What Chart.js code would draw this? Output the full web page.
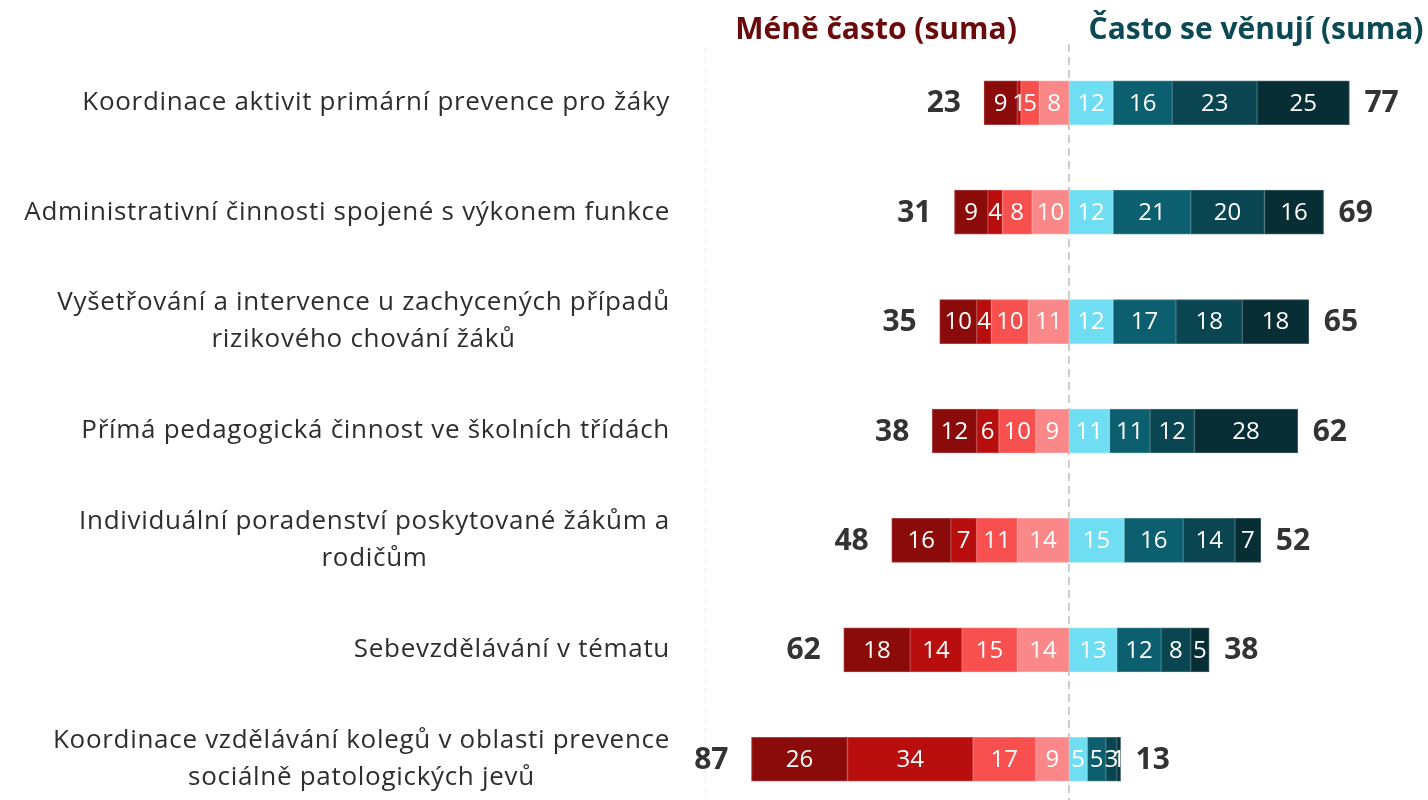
<!DOCTYPE html>
<html><head><meta charset="utf-8">
<script src="https://cdn.jsdelivr.net/npm/chart.js@4"></script>
<style>
html,body{margin:0;padding:0;background:#fff;overflow:hidden}
#wrap{position:relative;width:1428px;height:814px}
</style>
</head><body>
<div id="wrap"><canvas id="c" width="1428" height="814"></canvas></div>
<script>
// ---- data ----
const categories = [
  ["Koordinace aktivit primární prevence pro žáky"],
  ["Administrativní činnosti spojené s výkonem funkce"],
  ["Vyšetřování a intervence u zachycených případů", "rizikového chování žáků"],
  ["Přímá pedagogická činnost ve školních třídách"],
  ["Individuální poradenství poskytované žákům a", "rodičům"],
  ["Sebevzdělávání v tématu"],
  ["Koordinace vzdělávání kolegů v oblasti prevence", "sociálně patologických jevů"]
];
// "Méně často" side (outermost -> innermost)
const lessDark  = [9, 9, 10, 12, 16, 18, 26];
const lessRed   = [1, 4, 4, 6, 7, 14, 34];
const lessCoral = [5, 8, 10, 10, 11, 15, 17];
const lessPink  = [8, 10, 11, 9, 14, 14, 9];
// "Často se věnují" side (innermost -> outermost)
const oftenCyan    = [12, 12, 12, 11, 15, 13, 5];
const oftenTeal    = [16, 21, 17, 11, 16, 12, 5];
const oftenDark    = [23, 20, 18, 12, 14, 8, 3];
const oftenDarkest = [25, 16, 18, 28, 7, 5, 1];
// totals shown beside bars
const lessTotals  = [23, 31, 35, 38, 48, 62, 87];
const oftenTotals = [77, 69, 65, 62, 52, 38, 13];
const leftTitle  = "Méně často (suma)";
const rightTitle = "Často se věnují (suma)";
const axisMin = -98.6, axisMax = 97.3;

const neg = a => a.map(v => -v);
const FONT = "'Open Sans', 'Noto Sans', sans-serif";

function lighten(hex, t) {
  const n = parseInt(hex.slice(1), 16);
  const r = (n >> 16) & 255, g = (n >> 8) & 255, b = n & 255;
  const m = c => Math.round(c + (255 - c) * t);
  return 'rgb(' + m(r) + ',' + m(g) + ',' + m(b) + ')';
}

const labelPlugin = {
  id: 'custom',
  beforeDatasetsDraw(chart) {
    const ctx = chart.ctx, xs = chart.scales.x, area = chart.chartArea;
    ctx.save();
    ctx.setLineDash([5, 5]);
    ctx.strokeStyle = '#ececec';
    ctx.lineWidth = 1;
    let x = Math.round(xs.getPixelForValue(axisMin)) + 0.5;
    ctx.beginPath(); ctx.moveTo(x, area.top); ctx.lineTo(x, 800); ctx.stroke();
    ctx.setLineDash([8, 5]);
    ctx.strokeStyle = '#bdbdbd';
    ctx.lineWidth = 1.5;
    x = xs.getPixelForValue(0);
    ctx.beginPath(); ctx.moveTo(x, area.top - 4); ctx.lineTo(x, 800); ctx.stroke();
    ctx.restore();
  },
  afterDatasetsDraw(chart) {
    const ctx = chart.ctx, xs = chart.scales.x, ys = chart.scales.y;
    ctx.save();
    // segment values
    ctx.fillStyle = '#ffffff';
    ctx.font = "24px " + FONT;
    ctx.textAlign = 'center';
    ctx.textBaseline = 'middle';
    chart.data.datasets.forEach((ds, di) => {
      const meta = chart.getDatasetMeta(di);
      meta.data.forEach((el, i) => {
        const v = Math.abs(ds.data[i]);
        ctx.fillText(String(v), (el.x + el.base) / 2, el.y + 1);
      });
    });
    // totals
    ctx.fillStyle = '#333333';
    ctx.font = "bold 30px " + FONT;
    categories.forEach((c, i) => {
      const y = ys.getPixelForValue(i) + 1;
      const lx = xs.getPixelForValue(-(lessDark[i] + lessRed[i] + lessCoral[i] + lessPink[i]));
      const rx = xs.getPixelForValue(oftenCyan[i] + oftenTeal[i] + oftenDark[i] + oftenDarkest[i]);
      ctx.textAlign = 'right';
      ctx.fillText(String(lessTotals[i]), lx - 23, y);
      ctx.textAlign = 'left';
      ctx.fillText(String(oftenTotals[i]), rx + 15, y);
    });
    // category labels
    ctx.fillStyle = '#2e2e2e';
    ctx.font = "26px " + FONT;
    ctx.letterSpacing = '0.7px';
    ctx.textAlign = 'center';
    const right = 670, lh = 37;
    categories.forEach((lines, i) => {
      const yc = ys.getPixelForValue(i);
      const w = Math.max(...lines.map(l => ctx.measureText(l).width));
      const cx = right - w / 2;
      lines.forEach((l, k) => {
        ctx.fillText(l, cx, yc + (k - (lines.length - 1) / 2) * lh);
      });
    });
    ctx.letterSpacing = '0px';
    // titles
    ctx.font = "bold 30px " + FONT;
    ctx.fillStyle = '#6b0a0a';
    ctx.fillText(leftTitle, 876, 30);
    ctx.fillStyle = '#0b4a55';
    ctx.fillText(rightTitle, 1256, 30);
    ctx.restore();
  }
};

const mk = (label, data, color) => ({
  label, data, backgroundColor: color, borderColor: lighten(color, 0.22), borderWidth: 1,
  borderSkipped: false, barThickness: 44, stack: 's'
});

new Chart(document.getElementById('c'), {
  type: 'bar',
  data: {
    labels: categories,
    datasets: [
      mk('pink', neg(lessPink), '#fa8888'),
      mk('coral', neg(lessCoral), '#f84f4f'),
      mk('red', neg(lessRed), '#b90e0e'),
      mk('dark red', neg(lessDark), '#8b0a0a'),
      mk('cyan', oftenCyan, '#6fddf2'),
      mk('teal', oftenTeal, '#0c5f6e'),
      mk('dark teal', oftenDark, '#0a4651'),
      mk('darkest teal', oftenDarkest, '#082e35')
    ]
  },
  options: {
    indexAxis: 'y',
    responsive: false,
    animation: false,
    devicePixelRatio: 1,
    layout: { padding: { left: 705, top: 48, right: 0, bottom: 0 } },
    plugins: { legend: { display: false }, tooltip: { enabled: false }, title: { display: false } },
    scales: {
      x: { display: false, stacked: true, min: axisMin, max: axisMax },
      y: { display: false, stacked: true }
    }
  },
  plugins: [labelPlugin]
});
</script>
</body></html>
